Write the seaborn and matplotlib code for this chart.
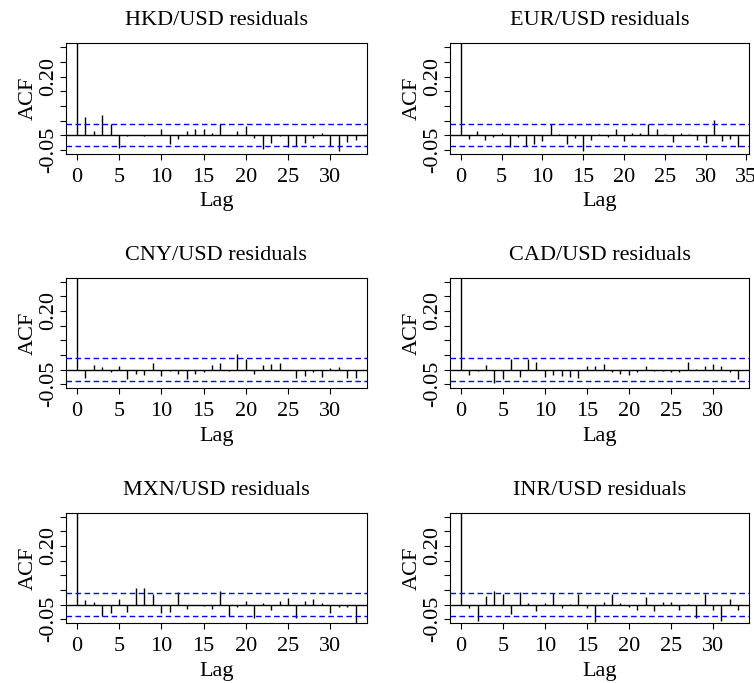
import matplotlib
matplotlib.use('Agg')
import matplotlib.pyplot as plt
import seaborn as sns
import numpy as np

# ── ACF values (lag 0 = 1) ──
titles = ['HKD/USD residuals', 'EUR/USD residuals', 'CNY/USD residuals',
          'CAD/USD residuals', 'MXN/USD residuals', 'INR/USD residuals']

acf_hkd = [1.0, 0.063, 0.015, 0.068, 0.037, -0.044, -0.003, 0.001, -0.001, 0.001,
           0.023, -0.031, -0.014, 0.015, 0.020, 0.023, 0.009, 0.037, 0.001, 0.015,
           0.031, -0.008, -0.046, -0.025, -0.001, -0.040, -0.037, -0.025, -0.009, 0.008,
           -0.037, -0.054, -0.022, -0.015]
acf_eur = [1.0, -0.014, 0.013, -0.017, -0.006, 0.008, -0.040, -0.006, -0.036, -0.029,
           -0.021, 0.040, 0.005, -0.029, -0.010, -0.052, -0.017, 0.005, -0.006, 0.020,
           -0.021, 0.008, 0.009, 0.037, 0.020, 0.005, -0.024, 0.008, 0.005, -0.017,
           -0.026, 0.052, -0.021, -0.014, -0.039]
acf_cny = [1.0, -0.028, 0.015, 0.008, -0.010, 0.011, -0.031, -0.014, -0.020, 0.022,
           -0.023, -0.005, -0.014, -0.034, -0.014, -0.009, 0.015, 0.022, -0.005, 0.052,
           0.036, -0.014, 0.015, 0.018, 0.022, -0.001, -0.028, -0.022, -0.008, -0.025,
           0.005, 0.008, -0.028, -0.029]
acf_cad = [1.0, -0.017, -0.006, 0.015, -0.045, -0.031, 0.036, -0.025, 0.036, 0.026,
           -0.025, -0.017, -0.021, -0.025, -0.029, 0.011, 0.011, 0.018, -0.010, -0.014,
           -0.017, -0.008, 0.011, -0.006, -0.006, -0.008, -0.010, 0.026, 0.001, 0.011,
           0.018, 0.011, -0.008, -0.031]
acf_mxn = [1.0, 0.015, 0.008, -0.039, -0.028, 0.018, -0.024, 0.055, 0.056, 0.036,
           -0.028, -0.024, 0.044, -0.016, -0.001, -0.006, -0.016, 0.045, -0.040, -0.010,
           0.013, -0.046, 0.006, -0.020, 0.013, 0.024, -0.046, 0.013, 0.020, 0.006,
           -0.028, -0.010, -0.007, -0.068]
acf_inr = [1.0, -0.013, -0.056, 0.030, 0.047, 0.036, -0.033, 0.044, 0.005, -0.023,
           0.005, 0.039, -0.013, 0.001, 0.036, -0.013, -0.058, 0.010, 0.036, 0.005,
           -0.008, -0.017, 0.026, -0.022, 0.010, 0.010, -0.020, 0.001, -0.045, 0.036,
           -0.017, -0.056, 0.018, -0.017]

all_acf = [acf_hkd, acf_eur, acf_cny, acf_cad, acf_mxn, acf_inr]
conf_bound = 0.038

y_ticks = [-0.05, 0.00, 0.05, 0.10, 0.15, 0.20, 0.25, 0.30]
y_ticklabels = ['-0.05', '', '', '', '', '0.20', '', '']

sns.set_theme(style='ticks')
plt.rcParams['font.family'] = ['Liberation Serif', 'DejaVu Serif']
plt.rcParams['font.size'] = 16
plt.rcParams['text.color'] = 'black'
plt.rcParams['axes.labelcolor'] = 'black'
plt.rcParams['xtick.color'] = 'black'
plt.rcParams['ytick.color'] = 'black'

fig = plt.figure(figsize=(7.54, 6.83), dpi=100)

# panel boxes in figure fractions (left, bottom, width, height)
col_left = [0.0871, 0.5964]
col_width = [0.3992, 0.3973]
row_bottom = [0.7745, 0.4315, 0.0874]
row_height = 0.1621

for i, (title, acf) in enumerate(zip(titles, all_acf)):
    r, c = divmod(i, 2)
    ax = fig.add_axes([col_left[c], row_bottom[r], col_width[c], row_height])
    lags = np.arange(len(acf))

    ax.vlines(lags, 0, acf, color='black', linewidth=1.0)
    ax.axhline(0, color='black', linewidth=1.0)
    ax.axhline(conf_bound, color='#0000FF', linewidth=1.0, dashes=(4, 2.5))
    ax.axhline(-conf_bound, color='#0000FF', linewidth=1.0, dashes=(4, 2.5))

    # R-style 4% padding around the data range
    xmax = lags[-1]
    x_hi = xmax * 1.04
    ax.set_xlim(-0.04 * xmax, x_hi)
    ax.set_ylim(-0.05 - 0.014, 0.30 + 0.014)

    ax.set_xticks(np.arange(0, x_hi, 5))
    ax.set_yticks(y_ticks)
    ax.set_yticklabels(y_ticklabels, rotation=90, va='center')

    for s in ax.spines.values():
        s.set_visible(True)
        s.set_color('black')
        s.set_linewidth(0.8)
    ax.tick_params(axis='both', direction='out', length=4.5, width=0.8,
                   color='black', labelcolor='black', labelsize=16)
    ax.tick_params(axis='x', pad=5.5)
    ax.tick_params(axis='y', pad=1)

    ax.set_title(title, fontsize=16, pad=13, color='black')
    ax.set_xlabel('Lag', fontsize=16, labelpad=4)
    ax.set_ylabel('ACF', fontsize=16, labelpad=1)
    ax.grid(False)

plt.savefig('out.png', dpi=100)
plt.close()
